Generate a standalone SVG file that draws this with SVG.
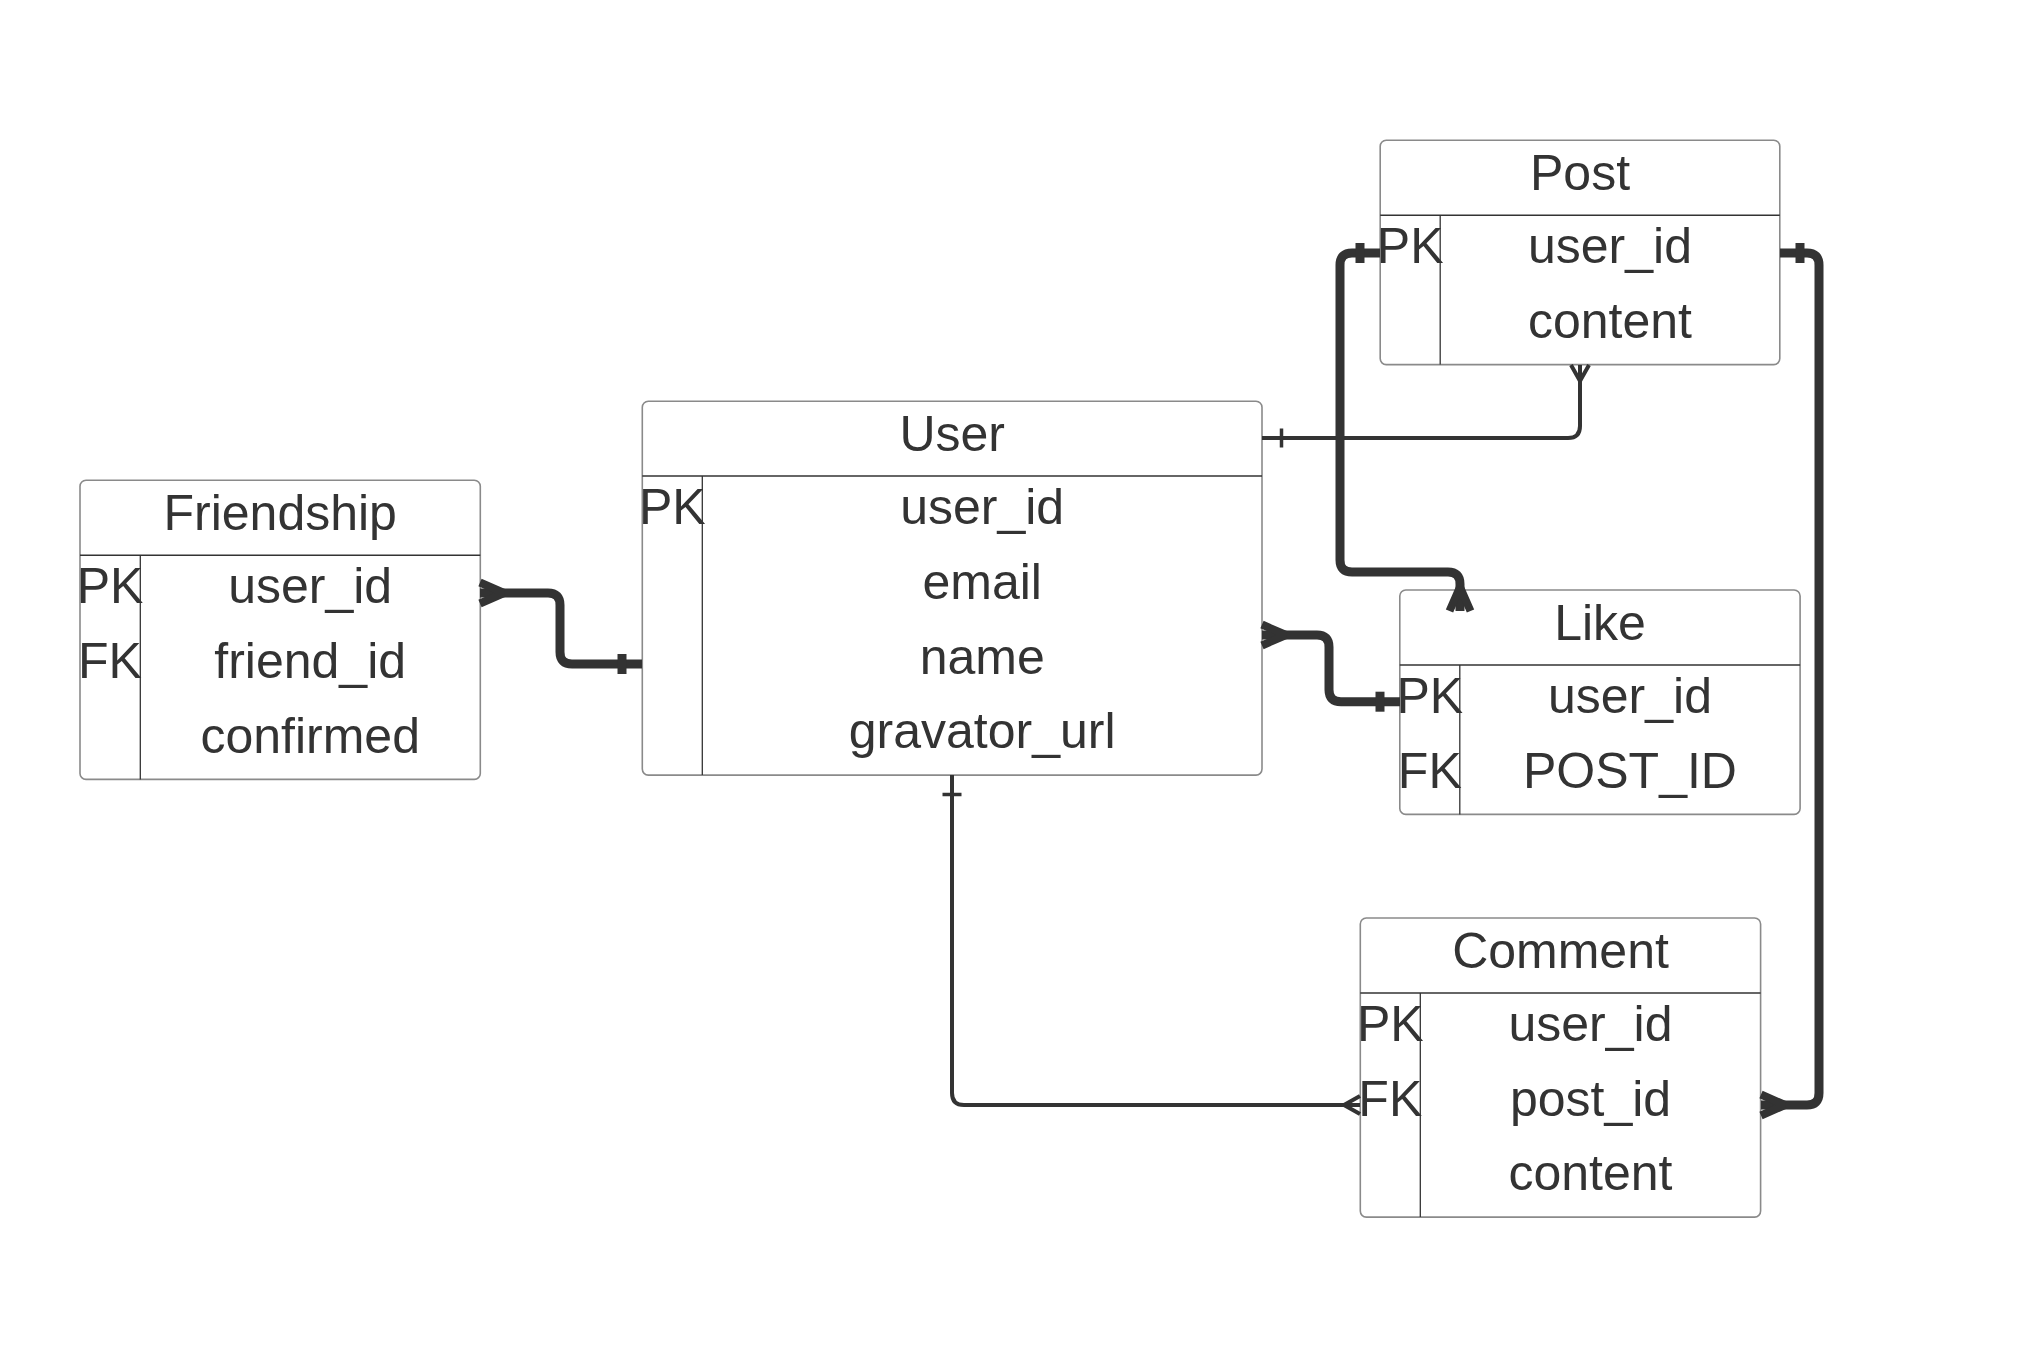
<svg xmlns="http://www.w3.org/2000/svg" width="2019" height="1360" viewBox="0 0 2019 1360">
  <style>
    .box { fill: #ffffff; stroke: #8a8a8a; stroke-width: 1.6; }
    .sep { stroke: #333333; stroke-width: 1.6; fill: none; }
    .div { stroke: #333333; stroke-width: 1.3; fill: none; }
    text { font-family: "Liberation Sans", Arial, sans-serif; font-size: 50px; fill: #333333; }
    .c { text-anchor: middle; }
    .thick { fill: none; stroke: #333333; stroke-width: 9; stroke-linejoin: round; }
    .thin { fill: none; stroke: #333333; stroke-width: 4; stroke-linejoin: round; }
  </style>
  <defs>
    <marker id="crowThick" markerUnits="userSpaceOnUse" markerWidth="40" markerHeight="40" refX="0" refY="0" orient="auto" overflow="visible">
      <path d="M-24,0 L0,-10.5 M-24,0 L0,10.5" fill="none" stroke="#333333" stroke-width="8"/>
    </marker>
    <marker id="crowThin" markerUnits="userSpaceOnUse" markerWidth="30" markerHeight="30" refX="0" refY="0" orient="auto" overflow="visible">
      <path d="M-16,0 L0,-9 M-16,0 L0,9" fill="none" stroke="#333333" stroke-width="4"/>
    </marker>
    <marker id="barThick" markerUnits="userSpaceOnUse" markerWidth="30" markerHeight="30" refX="0" refY="0" orient="auto" overflow="visible">
      <path d="M20,-10 L20,10" fill="none" stroke="#333333" stroke-width="9"/>
    </marker>
    <marker id="barThin" markerUnits="userSpaceOnUse" markerWidth="30" markerHeight="30" refX="0" refY="0" orient="auto" overflow="visible">
      <path d="M19.5,-9.5 L19.5,9.5" fill="none" stroke="#333333" stroke-width="3.5"/>
    </marker>
  </defs>
  <rect x="0" y="0" width="2019" height="1360" fill="#ffffff"/>

  <g id="friendship">
    <rect class="box" x="80" y="480.3" width="400.3" height="299.1" rx="6"/>
    <line class="sep" x1="80" y1="555.3" x2="480.3" y2="555.3"/>
    <line class="div" x1="140.3" y1="555.3" x2="140.3" y2="779.4"/>
    <text class="c" x="280.2" y="529.5">Friendship</text>
    <text class="c" x="110" y="603.3">PK</text>
    <text class="c" x="110" y="678">FK</text>
    <text class="c" x="310.2" y="603.3">user_id</text>
    <text class="c" x="310.2" y="678">friend_id</text>
    <text class="c" x="310.2" y="752.7">confirmed</text>
  </g>

  <g id="user">
    <rect class="box" x="642.3" y="401.3" width="619.7" height="373.8" rx="6"/>
    <line class="sep" x1="642.3" y1="476" x2="1262" y2="476"/>
    <line class="div" x1="702.3" y1="476" x2="702.3" y2="775.1"/>
    <text class="c" x="952.2" y="450.5">User</text>
    <text class="c" x="672.3" y="524.3">PK</text>
    <text class="c" x="982.2" y="524.3">user_id</text>
    <text class="c" x="982.2" y="599">email</text>
    <text class="c" x="982.2" y="673.7">name</text>
    <text class="c" x="982.2" y="748.4">gravator_url</text>
  </g>

  <g id="post">
    <rect class="box" x="1380.2" y="140.2" width="399.6" height="224.4" rx="6"/>
    <line class="sep" x1="1380.2" y1="215.2" x2="1779.8" y2="215.2"/>
    <line class="div" x1="1440.2" y1="215.2" x2="1440.2" y2="364.6"/>
    <text class="c" x="1580" y="189.5">Post</text>
    <text class="c" x="1410.2" y="263.2">PK</text>
    <text class="c" x="1610" y="263.2">user_id</text>
    <text class="c" x="1610" y="337.9">content</text>
  </g>

  <g id="like">
    <rect class="box" x="1399.8" y="590" width="400.3" height="224.4" rx="6"/>
    <line class="sep" x1="1399.8" y1="665" x2="1800.1" y2="665"/>
    <line class="div" x1="1459.8" y1="665" x2="1459.8" y2="814.4"/>
    <text class="c" x="1600" y="639.5">Like</text>
    <text class="c" x="1429.8" y="713">PK</text>
    <text class="c" x="1429.8" y="787.7">FK</text>
    <text class="c" x="1630" y="713">user_id</text>
    <text class="c" x="1630" y="787.7">POST_ID</text>
  </g>

  <g id="comment">
    <rect class="box" x="1360.3" y="918" width="400.3" height="299.1" rx="6"/>
    <line class="sep" x1="1360.3" y1="993" x2="1760.6" y2="993"/>
    <line class="div" x1="1420.3" y1="993" x2="1420.3" y2="1217.1"/>
    <text class="c" x="1560.5" y="967.5">Comment</text>
    <text class="c" x="1390.3" y="1041">PK</text>
    <text class="c" x="1390.3" y="1115.7">FK</text>
    <text class="c" x="1590.5" y="1041">user_id</text>
    <text class="c" x="1590.5" y="1115.7">post_id</text>
    <text class="c" x="1590.5" y="1190.4">content</text>
  </g>

  <g id="connectors">
    <path id="friendship-user" class="thick" d="M642,664 H572 Q560,664 560,652 V605 Q560,593 548,593 H480" marker-start="url(#barThick)" marker-end="url(#crowThick)"/>
    <path id="user-post" class="thin" d="M1262,438 H1568 Q1580,438 1580,426 V365" marker-start="url(#barThin)" marker-end="url(#crowThin)"/>
    <path id="post-like" class="thick" d="M1380,253 H1352 Q1340,253 1340,265 V560 Q1340,572 1352,572 H1448 Q1460,572 1460,584 V611" marker-start="url(#barThick)" marker-end="url(#crowThick)"/>
    <path id="like-user" class="thick" d="M1400,701.7 H1341 Q1329,701.7 1329,689.7 V647 Q1329,635 1317,635 H1262" marker-start="url(#barThick)" marker-end="url(#crowThick)"/>
    <path id="post-comment" class="thick" d="M1780,253 H1807 Q1819,253 1819,265 V1093 Q1819,1105 1807,1105 H1761" marker-start="url(#barThick)" marker-end="url(#crowThick)"/>
    <path id="user-comment" class="thin" d="M952,775 V1093 Q952,1105 964,1105 H1360" marker-start="url(#barThin)" marker-end="url(#crowThin)"/>
  </g>
</svg>
